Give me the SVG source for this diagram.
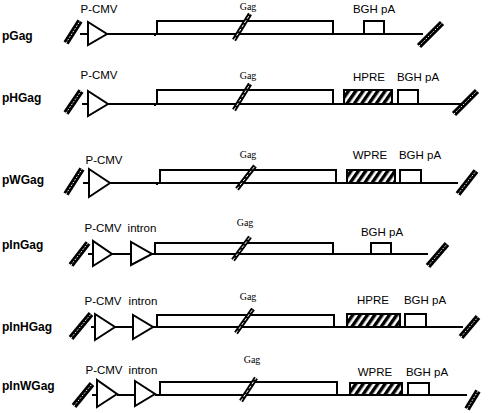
<svg xmlns="http://www.w3.org/2000/svg" width="488" height="413" viewBox="0 0 488 413">
<style>
.ln{stroke:#000;stroke-width:2;fill:none}
.bx{stroke:#000;stroke-width:2;fill:#fff}
.hb{stroke:#000;stroke-width:2;fill:url(#hatch)}
.tri{stroke:#000;stroke-width:2;fill:#fff;stroke-linejoin:miter}
.brk1{stroke:#000;stroke-width:6;fill:none}
.brk2{stroke:#fff;stroke-width:1;stroke-dasharray:1.6 1.6;fill:none}
.gh1{stroke:#000;stroke-width:4.5;fill:none}
.gh2{stroke:#fff;stroke-width:1;stroke-dasharray:3 2;fill:none}
.lbl{font-family:"Liberation Sans",Arial,sans-serif;font-size:12px;font-weight:bold;fill:#000}
.t{font-family:"Liberation Sans",Arial,sans-serif;font-size:11.5px;fill:#000;text-anchor:middle}
.g{font-family:"Liberation Serif","Times New Roman",serif;font-size:10px;fill:#000;text-anchor:middle}
</style>
<defs>
<pattern id="hatch" patternUnits="userSpaceOnUse" width="6" height="6" patternTransform="rotate(35)">
<rect width="6" height="6" fill="#fff"/>
<rect width="3.4" height="6" fill="#000"/>
</pattern>
</defs>
<rect width="488" height="413" fill="#fff"/>

<!-- Row 1: pGag -->
<g id="pGag">
<text class="lbl" x="2" y="40">pGag</text>
<line class="ln" x1="80" y1="34" x2="88" y2="34"/>
<line class="ln" x1="107" y1="34" x2="423" y2="34"/>
<polygon class="tri" points="88,22 88,45 107,34"/>
<rect class="bx" x="157" y="21" width="176" height="13"/>
<line class="ln" x1="155" y1="34" x2="155" y2="36"/>
<line class="gh1" x1="234" y1="40" x2="250" y2="14"/>
<line class="gh2" x1="234" y1="40" x2="250" y2="14"/>
<rect class="bx" x="364" y="21" width="20" height="13"/>
<line class="brk1" x1="66" y1="43" x2="80" y2="21"/>
<line class="brk2" x1="66" y1="43" x2="80" y2="21"/>
<line class="brk1" x1="419" y1="46" x2="442" y2="23"/>
<line class="brk2" x1="419" y1="46" x2="442" y2="23"/>
<text class="t" x="99" y="13">P-CMV</text>
<text class="g" x="248" y="10">Gag</text>
<text class="t" x="374" y="13">BGH pA</text>
</g>

<!-- Row 2: pHGag -->
<g id="pHGag">
<text class="lbl" x="2" y="102">pHGag</text>
<line class="ln" x1="82" y1="104" x2="88" y2="104"/>
<line class="ln" x1="108" y1="104" x2="467" y2="104"/>
<polygon class="tri" points="88,91 88,116 108,104"/>
<rect class="bx" x="157" y="90" width="176" height="14"/>
<line class="ln" x1="155" y1="104" x2="155" y2="106"/>
<line class="gh1" x1="234" y1="110" x2="250" y2="84"/>
<line class="gh2" x1="234" y1="110" x2="250" y2="84"/>
<rect class="hb" x="344" y="90" width="48" height="14"/>
<rect class="bx" x="398" y="90" width="20" height="14"/>
<line class="brk1" x1="66" y1="113" x2="81" y2="91"/>
<line class="brk2" x1="66" y1="113" x2="81" y2="91"/>
<line class="brk1" x1="454" y1="114" x2="477" y2="91"/>
<line class="brk2" x1="454" y1="114" x2="477" y2="91"/>
<text class="t" x="99" y="79">P-CMV</text>
<text class="g" x="248" y="79">Gag</text>
<text class="t" x="369" y="81">HPRE</text>
<text class="t" x="418" y="81">BGH pA</text>
</g>

<!-- Row 3: pWGag -->
<g id="pWGag">
<text class="lbl" x="2" y="184">pWGag</text>
<line class="ln" x1="83" y1="183" x2="89" y2="183"/>
<line class="ln" x1="110" y1="183" x2="458" y2="183"/>
<polygon class="tri" points="89,169 89,197 110,183"/>
<rect class="bx" x="160" y="170" width="176" height="13"/>
<line class="ln" x1="157" y1="183" x2="157" y2="185"/>
<line class="gh1" x1="237" y1="189" x2="255" y2="166"/>
<line class="gh2" x1="237" y1="189" x2="255" y2="166"/>
<rect class="hb" x="347" y="170" width="48" height="13"/>
<rect class="bx" x="400" y="170" width="21" height="13"/>
<line class="brk1" x1="66" y1="194" x2="82" y2="169"/>
<line class="brk2" x1="66" y1="194" x2="82" y2="169"/>
<line class="brk1" x1="458" y1="194" x2="476" y2="171"/>
<line class="brk2" x1="458" y1="194" x2="476" y2="171"/>
<text class="t" x="104" y="164">P-CMV</text>
<text class="g" x="248" y="158">Gag</text>
<text class="t" x="370" y="159">WPRE</text>
<text class="t" x="420" y="159">BGH pA</text>
</g>

<!-- Row 4: pInGag -->
<g id="pInGag">
<text class="lbl" x="2" y="249">pInGag</text>
<line class="ln" x1="88" y1="254" x2="93" y2="254"/>
<line class="ln" x1="112" y1="254" x2="131" y2="254"/>
<line class="ln" x1="152" y1="254" x2="428" y2="254"/>
<polygon class="tri" points="93,241 93,266 112,254"/>
<polygon class="tri" points="131,242 131,265 152,254"/>
<rect class="bx" x="155" y="243" width="178" height="11"/>
<line class="gh1" x1="233" y1="260" x2="250" y2="237"/>
<line class="gh2" x1="233" y1="260" x2="250" y2="237"/>
<rect class="bx" x="371" y="243" width="20" height="11"/>
<line class="brk1" x1="71" y1="265" x2="88" y2="243"/>
<line class="brk2" x1="71" y1="265" x2="88" y2="243"/>
<line class="brk1" x1="428" y1="266" x2="447" y2="244"/>
<line class="brk2" x1="428" y1="266" x2="447" y2="244"/>
<text class="t" x="103" y="232">P-CMV</text>
<text class="t" x="142" y="232">intron</text>
<text class="g" x="245" y="226">Gag</text>
<text class="t" x="382" y="236">BGH pA</text>
</g>

<!-- Row 5: pInHGag -->
<g id="pInHGag">
<text class="lbl" x="2" y="331">pInHGag</text>
<line class="ln" x1="91" y1="327" x2="95" y2="327"/>
<line class="ln" x1="115" y1="327" x2="133" y2="327"/>
<line class="ln" x1="153" y1="327" x2="463" y2="327"/>
<polygon class="tri" points="95,314 95,340 115,327"/>
<polygon class="tri" points="133,315 133,339 153,327"/>
<rect class="bx" x="157" y="315" width="177" height="12"/>
<line class="gh1" x1="236" y1="333" x2="253" y2="309"/>
<line class="gh2" x1="236" y1="333" x2="253" y2="309"/>
<rect class="hb" x="347" y="314" width="53" height="13"/>
<rect class="bx" x="405" y="314" width="21" height="13"/>
<line class="brk1" x1="71" y1="338" x2="91" y2="314"/>
<line class="brk2" x1="71" y1="338" x2="91" y2="314"/>
<line class="brk1" x1="461" y1="337" x2="478" y2="317"/>
<line class="brk2" x1="461" y1="337" x2="478" y2="317"/>
<text class="t" x="103" y="305">P-CMV</text>
<text class="t" x="143" y="305">intron</text>
<text class="g" x="248" y="300">Gag</text>
<text class="t" x="373" y="304">HPRE</text>
<text class="t" x="425" y="304">BGH pA</text>
</g>

<!-- Row 6: pInWGag -->
<g id="pInWGag">
<text class="lbl" x="2" y="390">pInWGag</text>
<line class="ln" x1="92" y1="395" x2="97" y2="395"/>
<line class="ln" x1="117" y1="395" x2="135" y2="395"/>
<line class="ln" x1="155" y1="395" x2="467" y2="395"/>
<polygon class="tri" points="97,380 97,407 117,394"/>
<polygon class="tri" points="135,381 135,406 155,394"/>
<rect class="bx" x="160" y="382" width="177" height="13"/>
<line class="gh1" x1="241" y1="401" x2="256" y2="378"/>
<line class="gh2" x1="241" y1="401" x2="256" y2="378"/>
<rect class="hb" x="350" y="383" width="52" height="12"/>
<rect class="bx" x="408" y="383" width="21" height="12"/>
<line class="brk1" x1="74" y1="406" x2="92" y2="384"/>
<line class="brk2" x1="74" y1="406" x2="92" y2="384"/>
<line class="brk1" x1="467" y1="409" x2="478" y2="391"/>
<line class="brk2" x1="467" y1="409" x2="478" y2="391"/>
<text class="t" x="104" y="374">P-CMV</text>
<text class="t" x="143" y="374">intron</text>
<text class="g" x="252" y="363">Gag</text>
<text class="t" x="375" y="376">WPRE</text>
<text class="t" x="427" y="376">BGH pA</text>
</g>
</svg>
